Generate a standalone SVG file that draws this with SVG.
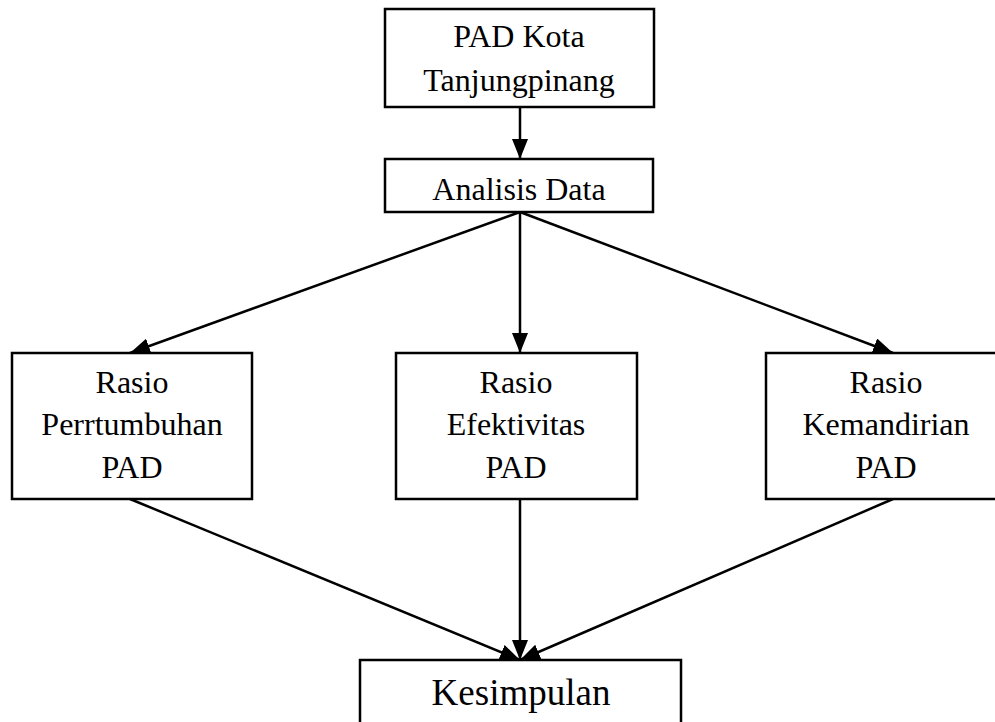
<svg xmlns="http://www.w3.org/2000/svg" width="995" height="722" viewBox="0 0 995 722">
<style>
.box{fill:#fff;stroke:#000;stroke-width:2.5}
.t{font-family:"Liberation Serif","Times New Roman",serif;font-size:32px;fill:#000;text-anchor:middle}
.big{font-size:37px}
.c{stroke:#000;stroke-width:2.5;fill:none;marker-end:url(#ah)}
</style>
<defs>
<marker id="ah" markerUnits="userSpaceOnUse" markerWidth="22" markerHeight="16" refX="20" refY="8" orient="auto">
<path d="M0,0 L20,8 L0,16 Z" fill="#000"/>
</marker>
</defs>
<rect width="995" height="722" fill="#fff"/>
<g id="connectors">
<line class="c" x1="520" y1="107" x2="520" y2="159"/>
<line class="c" x1="520" y1="212" x2="130" y2="353"/>
<line class="c" x1="520" y1="212" x2="520" y2="353"/>
<line class="c" x1="520" y1="212" x2="893" y2="353"/>
<line class="c" x1="130" y1="499" x2="520" y2="660"/>
<line class="c" x1="520" y1="499" x2="520" y2="660"/>
<line class="c" x1="893" y1="499" x2="520" y2="660"/>
</g>
<g id="pad">
<rect class="box" x="385" y="9" width="269" height="98"/>
<text class="t" x="519" y="47">PAD Kota</text>
<text class="t" x="519" y="91">Tanjungpinang</text>
</g>
<g id="analisis">
<rect class="box" x="385" y="159" width="268" height="53"/>
<text class="t" x="519" y="200">Analisis Data</text>
</g>
<g id="pertumbuhan">
<rect class="box" x="12" y="353" width="240" height="146"/>
<text class="t" x="132" y="393">Rasio</text>
<text class="t" x="132" y="435">Perrtumbuhan</text>
<text class="t" x="132" y="478">PAD</text>
</g>
<g id="efektivitas">
<rect class="box" x="396" y="353" width="241" height="146"/>
<text class="t" x="516" y="393">Rasio</text>
<text class="t" x="516" y="435">Efektivitas</text>
<text class="t" x="516" y="478">PAD</text>
</g>
<g id="kemandirian">
<rect class="box" x="766" y="353" width="240" height="146"/>
<text class="t" x="886" y="393">Rasio</text>
<text class="t" x="886" y="435">Kemandirian</text>
<text class="t" x="886" y="478">PAD</text>
</g>
<g id="kesimpulan">
<rect class="box" x="360" y="660" width="321" height="70"/>
<text class="t big" x="521" y="705">Kesimpulan</text>
</g>
</svg>
